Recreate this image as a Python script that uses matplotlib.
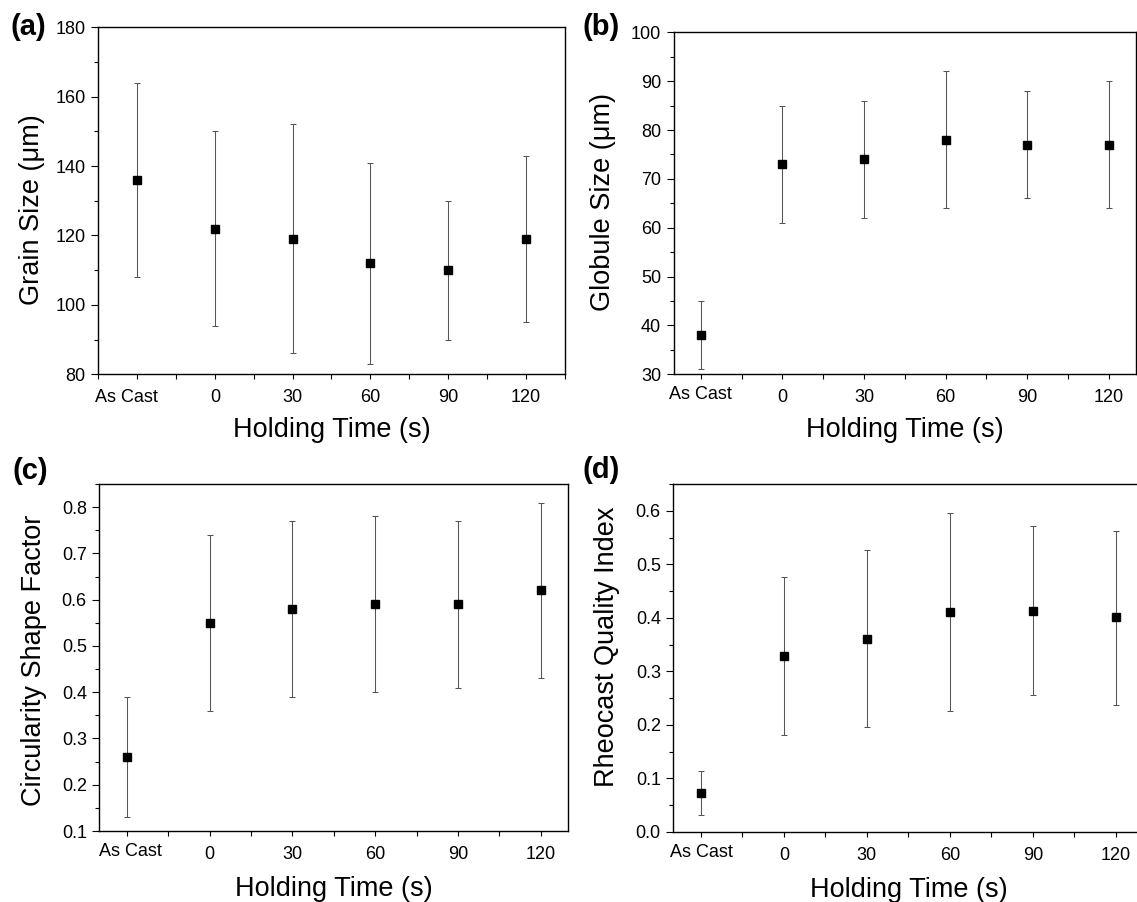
import matplotlib
matplotlib.use('Agg')
import matplotlib.pyplot as plt
import matplotlib.transforms as mtransforms
from matplotlib.ticker import MultipleLocator, FixedLocator, FixedFormatter

plt.rcParams['font.family'] = ['Liberation Sans', 'DejaVu Sans']

# holding time; "As Cast" sits at -30 on the axis
times = [-30, 0, 30, 60, 90, 120]
time_labels = ['As Cast', '0', '30', '60', '90', '120']

# (a) grain size, um
grain = [136, 122, 119, 112, 110, 119]
grain_lo = [108, 94, 86, 83, 90, 95]
grain_hi = [164, 150, 152, 141, 130, 143]

# (b) globule size, um
globule = [38, 73, 74, 78, 77, 77]
globule_lo = [31, 61, 62, 64, 66, 64]
globule_hi = [45, 85, 86, 92, 88, 90]

# (c) circularity shape factor
circ = [0.26, 0.55, 0.58, 0.59, 0.59, 0.62]
circ_lo = [0.13, 0.36, 0.39, 0.40, 0.41, 0.43]
circ_hi = [0.39, 0.74, 0.77, 0.78, 0.77, 0.81]

# (d) rheocast quality index
rqi = [0.072, 0.329, 0.361, 0.411, 0.413, 0.401]
rqi_lo = [0.031, 0.182, 0.196, 0.226, 0.255, 0.238]
rqi_hi = [0.114, 0.476, 0.526, 0.596, 0.571, 0.563]

W, H = 1137, 902
fig = plt.figure(figsize=(W / 100, H / 100), dpi=100)


def px_rect(l, t, r, b):
    return [l / W, 1 - b / H, (r - l) / W, (b - t) / H]


panels = [
    dict(vals=grain, lo=grain_lo, hi=grain_hi, rect=(98.3, 27.3, 564.6, 374.3),
         xlim=(-45, 135), ylim=(80, 180), ymaj=20, ymin=10, yfmt='{:.0f}',
         ylabel='Grain Size (μm)', ylab_x=45.5, ylab_y=0.4735, xlab_top=417,
         tag='(a)', tag_xy=(10, 27), ac_off=(-11, 0)),
    dict(vals=globule, lo=globule_lo, hi=globule_hi, rect=(673.5, 32.3, 1136, 374.3),
         xlim=(-40, 130), ylim=(30, 100), ymaj=10, ymin=5, yfmt='{:.0f}',
         ylabel='Globule Size (μm)', ylab_x=616.5, ylab_y=0.505, xlab_top=417,
         tag='(b)', tag_xy=(582, 27), ac_off=(0, 3)),
    dict(vals=circ, lo=circ_lo, hi=circ_hi, rect=(99.3, 484, 568.3, 831),
         xlim=(-40, 130), ylim=(0.1, 0.85), ymaj=0.1, ymin=0.05, yfmt='{:.1f}',
         ylabel='Circularity Shape Factor', ylab_x=47.5, ylab_y=0.491, xlab_top=876,
         tag='(c)', tag_xy=(12, 471), ac_off=(4, 3)),
    dict(vals=rqi, lo=rqi_lo, hi=rqi_hi, rect=(673.3, 484, 1143.4, 832),
         xlim=(-40, 130), ylim=(0.0, 0.65), ymaj=0.1, ymin=0.05, yfmt='{:.1f}',
         ylabel='Rheocast Quality Index', ylab_x=620.5, ylab_y=0.532, xlab_top=877,
         tag='(d)', tag_xy=(583, 470), ac_off=(0, 3)),
]

for p in panels:
    ax = fig.add_axes(px_rect(*p['rect']))
    yerr = [[v - l for v, l in zip(p['vals'], p['lo'])],
            [h - v for v, h in zip(p['vals'], p['hi'])]]
    ax.errorbar(times, p['vals'], yerr=yerr, fmt='none', ecolor='#555555',
                elinewidth=0.75, capsize=2.4, capthick=0.75, zorder=2)
    ax.plot(times, p['vals'], 's', color='black', markersize=5.5, zorder=3)

    ax.set_xlim(*p['xlim'])
    ax.set_ylim(*p['ylim'])

    # x ticks every 15 s, labels on the numeric times only
    xt = list(range(p['xlim'][0] - p['xlim'][0] % 15 if p['xlim'][0] % 15 else p['xlim'][0],
                    p['xlim'][1] + 1, 15))
    xt = [t for t in xt if p['xlim'][0] <= t <= p['xlim'][1]]
    xl = [time_labels[times.index(t)] if (t in times and t != times[0]) else '' for t in xt]
    ax.xaxis.set_major_locator(FixedLocator(xt))
    ax.xaxis.set_major_formatter(FixedFormatter(xl))
    ax.yaxis.set_major_locator(MultipleLocator(p['ymaj']))
    ax.yaxis.set_minor_locator(MultipleLocator(p['ymin']))
    ax.yaxis.set_major_formatter(plt.FuncFormatter(lambda v, pos, f=p['yfmt']: f.format(v)))

    ax.tick_params(axis='x', which='major', direction='out', length=3.6, width=0.8,
                   pad=7, labelsize=13)
    ax.tick_params(axis='y', which='major', direction='out', length=5, width=0.8,
                   pad=4, labelsize=13)
    ax.tick_params(axis='y', which='minor', direction='out', length=3.2, width=0.8)
    ax.tick_params(top=False, right=False)
    for s in ax.spines.values():
        s.set_linewidth(1.0)

    # "As Cast" label drawn on its own so it can be nudged like the original
    dx, dy = p['ac_off']
    ax.annotate(time_labels[0], xy=(times[0], 0), xycoords=ax.get_xaxis_transform(),
                xytext=(dx * 0.72, -(3.6 + 7) + dy * 0.72), textcoords='offset points',
                ha='center', va='top', fontsize=13, annotation_clip=False)

    ax.set_xlabel('Holding Time (s)', fontsize=19.5)
    ax.set_ylabel(p['ylabel'], fontsize=19.5)
    ax.xaxis.set_label_coords(0.5, 1 - p['xlab_top'] / H,
                              transform=mtransforms.blended_transform_factory(ax.transAxes, fig.transFigure))
    ax.yaxis.set_label_coords(p['ylab_x'] / W, p['ylab_y'],
                              transform=mtransforms.blended_transform_factory(fig.transFigure, ax.transAxes))

    fig.text(p['tag_xy'][0] / W, 1 - p['tag_xy'][1] / H, p['tag'], fontsize=21,
             fontweight='bold', ha='left', va='center')

fig.savefig('out.png', dpi=100)
